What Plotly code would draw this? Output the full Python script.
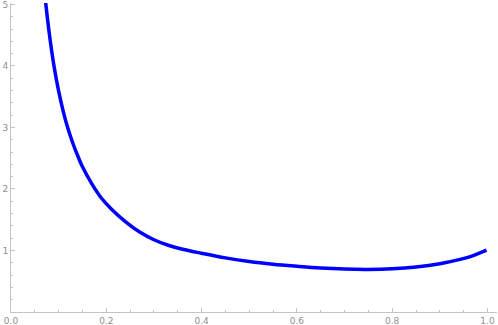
import plotly.graph_objects as go

x_vals = [0.0705, 0.08, 0.09, 0.10, 0.11, 0.12, 0.13, 0.14, 0.15, 0.17,
          0.19, 0.21, 0.24, 0.27, 0.30, 0.33, 0.36, 0.40, 0.45, 0.50,
          0.55, 0.60, 0.65, 0.70, 0.75, 0.80, 0.85, 0.90, 0.94, 0.97, 0.998]
y_vals = [5.19, 4.55, 4.01, 3.59, 3.25, 2.97, 2.74, 2.54, 2.36, 2.08,
          1.85, 1.68, 1.47, 1.30, 1.175, 1.085, 1.02, 0.955, 0.88, 0.82,
          0.776, 0.743, 0.715, 0.698, 0.693, 0.703, 0.732, 0.785, 0.852, 0.918, 1.005]

x_ticks = [0.0, 0.2, 0.4, 0.6, 0.8, 1.0]
x_labels = ["0.0", "0.2", "0.4", "0.6", "0.8", "1.0"]
y_ticks = [1, 2, 3, 4, 5]
y_labels = ["1", "2", "3", "4", "5"]

axis_col = "#c4c4c4"
lab_col = "#8f8f8f"

fig = go.Figure()
fig.add_trace(go.Scatter(x=x_vals, y=y_vals, mode="lines",
                         line=dict(color="#0000ff", width=3.5, shape="spline", smoothing=1.0),
                         hoverinfo="skip"))

fig.update_layout(
    width=498, height=325,
    margin=dict(l=11, r=1, t=3, b=13),
    paper_bgcolor="white", plot_bgcolor="white",
    showlegend=False,
    font=dict(family="DejaVu Sans", size=9, color=lab_col),
    xaxis=dict(range=[0, 1.02], showgrid=False, zeroline=False, showline=True,
               linecolor=axis_col, linewidth=1, automargin=False,
               tickmode="array", tickvals=x_ticks, ticktext=x_labels,
               ticks="inside", ticklen=4, tickcolor=axis_col, tickwidth=1,
               ticklabeloverflow="allow",
               minor=dict(dtick=0.05, tick0=0, ticks="inside", ticklen=2, tickcolor=axis_col, showgrid=False),
               tickfont=dict(size=9, color=lab_col)),
    yaxis=dict(range=[0, 5.024], showgrid=False, zeroline=False, showline=True,
               linecolor=axis_col, linewidth=1, automargin=False,
               tickmode="array", tickvals=y_ticks, ticktext=y_labels,
               ticks="inside", ticklen=4, tickcolor=axis_col, tickwidth=1,
               ticklabeloverflow="allow",
               minor=dict(dtick=0.2, tick0=0, ticks="inside", ticklen=2, tickcolor=axis_col, showgrid=False),
               tickfont=dict(size=9, color=lab_col)),
)

fig.write_html("out.html", config={"displayModeBar": False},
               post_script="document.body.style.margin='0';")
